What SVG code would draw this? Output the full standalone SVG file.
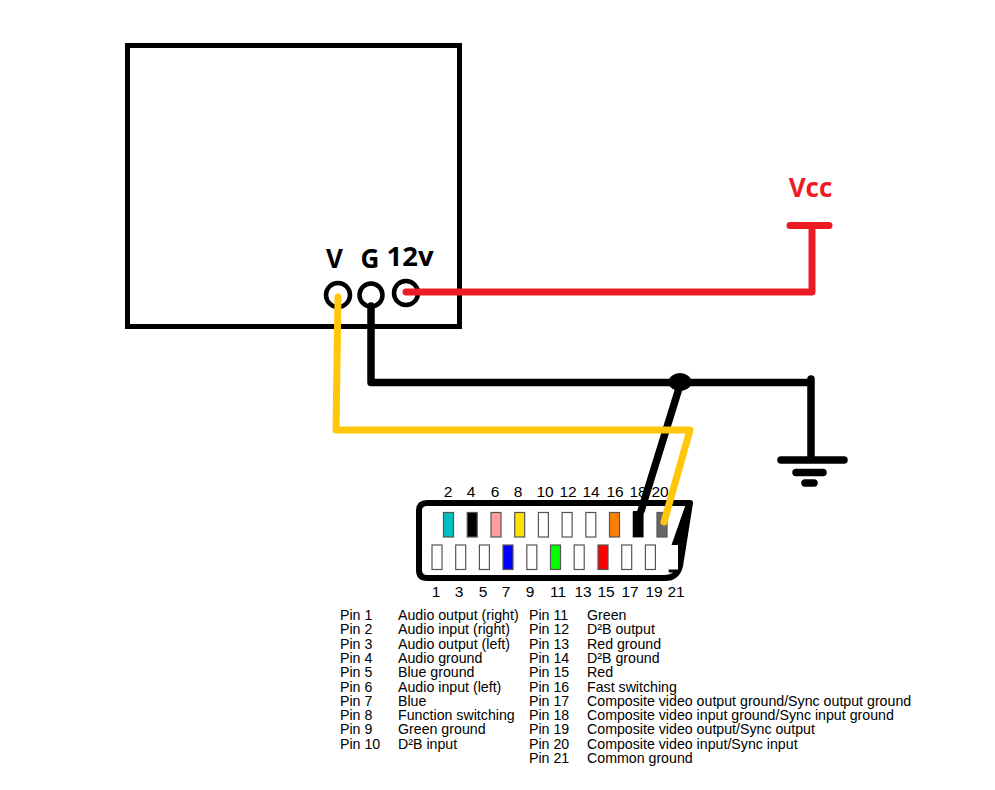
<svg xmlns="http://www.w3.org/2000/svg" width="995" height="790" viewBox="0 0 995 790">
<style>
.w{fill:none;stroke-width:7;stroke-linecap:round;stroke-linejoin:round}
.k{stroke:#000;stroke-width:7.500}.r{stroke:#ed1c24}.y{stroke:#ffc60b}
.c{fill:#fff;stroke:#000;stroke-width:4.500}
.b{font-family:"Open Sans","Noto Sans",sans-serif;font-weight:700;font-size:26px}
.n{font-family:"Liberation Sans",Arial,sans-serif;font-size:15.500px;fill:#000;text-anchor:middle}
.t{font-family:"Liberation Sans",Arial,sans-serif;font-size:14.200px;fill:#000}
.p{stroke:#555;stroke-width:1.200;fill:#fff}
</style>
<rect width="995" height="790" fill="#fff"/>
<g id="box"><rect x="127.500" y="45.500" width="332" height="281" fill="#fff" stroke="#000" stroke-width="5"/></g>
<g id="terminal-v"><circle class="c" cx="338" cy="295" r="12"/><text class="b" x="334.500" y="268" text-anchor="middle">V</text></g>
<g id="terminal-g"><circle class="c" cx="371" cy="295" r="11.500"/><text class="b" x="370" y="268" text-anchor="middle">G</text></g>
<g id="terminal-12v"><circle class="c" cx="406" cy="293" r="12"/><text class="b" x="410" y="266" text-anchor="middle" style="font-size:27.500px">12v</text></g>
<g id="scart">
<path d="M427,503H690L680,566Q677,578 665,578H427Q419,578 419,570V511Q419,503 427,503Z" fill="#fff" stroke="#000" stroke-width="6" stroke-linejoin="round"/>
<path d="M691,504L680,572L669,572L672,545L686,505Z" fill="#000" stroke="#000" stroke-width="1" stroke-linejoin="round"/>
<g id="pins-top">
<rect class="p" x="443.500" y="512.500" width="10" height="24.500" style="fill:#00bfbf"/>
<rect class="p" x="467.200" y="512.500" width="10" height="24.500" style="fill:#000"/>
<rect class="p" x="491" y="512.500" width="10" height="24.500" style="fill:#ff9f9f"/>
<rect class="p" x="514.700" y="512.500" width="10" height="24.500" style="fill:#ffe000"/>
<rect class="p" x="538.400" y="512.500" width="10" height="24.500"/>
<rect class="p" x="562.100" y="512.500" width="10" height="24.500"/>
<rect class="p" x="585.800" y="512.500" width="10" height="24.500"/>
<rect class="p" x="609.500" y="512.500" width="10" height="24.500" style="fill:#ff7f00"/>
<rect class="p" x="633.200" y="512.500" width="10" height="24.500" style="fill:#000"/>
<rect class="p" x="657" y="512.500" width="10" height="24.500" style="fill:#666"/>
</g>
<g id="pins-bottom">
<rect class="p" x="432" y="545" width="10" height="24.500"/>
<rect class="p" x="455.700" y="545" width="10" height="24.500"/>
<rect class="p" x="479.400" y="545" width="10" height="24.500"/>
<rect class="p" x="503" y="545" width="10" height="24.500" style="fill:#0000ff"/>
<rect class="p" x="526.800" y="545" width="10" height="24.500"/>
<rect class="p" x="550.500" y="545" width="10" height="24.500" style="fill:#00ff00"/>
<rect class="p" x="574.200" y="545" width="10" height="24.500"/>
<rect class="p" x="598" y="545" width="10" height="24.500" style="fill:#ff0000"/>
<rect class="p" x="621.700" y="545" width="10" height="24.500"/>
<rect class="p" x="645.400" y="545" width="10" height="24.500"/>
<rect x="669" y="545" width="9" height="24.500" fill="#fff"/>
</g>
<g id="pin-numbers">
<text class="n" x="448" y="497">2</text><text class="n" x="471" y="497">4</text><text class="n" x="495" y="497">6</text><text class="n" x="518" y="497">8</text><text class="n" x="545" y="497">10</text><text class="n" x="568" y="497">12</text><text class="n" x="591" y="497">14</text><text class="n" x="615" y="497">16</text><text class="n" x="638" y="497">18</text><text class="n" x="660" y="497">20</text>
<text class="n" x="436" y="597">1</text><text class="n" x="459" y="597">3</text><text class="n" x="483" y="597">5</text><text class="n" x="506" y="597">7</text><text class="n" x="530" y="597">9</text><text class="n" x="558" y="597">11</text><text class="n" x="583" y="597">13</text><text class="n" x="606" y="597">15</text><text class="n" x="630" y="597">17</text><text class="n" x="654" y="597">19</text><text class="n" x="676" y="597">21</text>
</g>
</g>
<g id="connectors">
<path class="w r" d="M406,292H812V226M790,225.500H829"/>
<path class="w k" d="M371,306V382.500H811V379M811,382V458M781,460H844M796,472.500H823M805,483H814"/>
<ellipse cx="680" cy="382" rx="11.500" ry="9" fill="#000"/>
<path class="w k" d="M680,385L641,511"/>
<rect x="633" y="511" width="10" height="26" fill="#000"/>
<path class="w y" d="M338,297L336,430H690L664,522"/>
</g>
<g id="vcc"><text class="b" x="810.500" y="197" text-anchor="middle" style="fill:#ed1c24">Vcc</text></g>
<g id="pin-list">
<text class="t" x="340" y="620">Pin 1</text><text class="t" x="398" y="620">Audio output (right)</text>
<text class="t" x="340" y="634.300">Pin 2</text><text class="t" x="398" y="634.300">Audio input (right)</text>
<text class="t" x="340" y="648.600">Pin 3</text><text class="t" x="398" y="648.600">Audio output (left)</text>
<text class="t" x="340" y="662.900">Pin 4</text><text class="t" x="398" y="662.900">Audio ground</text>
<text class="t" x="340" y="677.200">Pin 5</text><text class="t" x="398" y="677.200">Blue ground</text>
<text class="t" x="340" y="691.500">Pin 6</text><text class="t" x="398" y="691.500">Audio input (left)</text>
<text class="t" x="340" y="705.800">Pin 7</text><text class="t" x="398" y="705.800">Blue</text>
<text class="t" x="340" y="720.100">Pin 8</text><text class="t" x="398" y="720.100">Function switching</text>
<text class="t" x="340" y="734.400">Pin 9</text><text class="t" x="398" y="734.400">Green ground</text>
<text class="t" x="340" y="748.700">Pin 10</text><text class="t" x="398" y="748.700">D²B input</text>
<text class="t" x="529" y="620">Pin 11</text><text class="t" x="587" y="620">Green</text>
<text class="t" x="529" y="634.300">Pin 12</text><text class="t" x="587" y="634.300">D²B output</text>
<text class="t" x="529" y="648.600">Pin 13</text><text class="t" x="587" y="648.600">Red ground</text>
<text class="t" x="529" y="662.900">Pin 14</text><text class="t" x="587" y="662.900">D²B ground</text>
<text class="t" x="529" y="677.200">Pin 15</text><text class="t" x="587" y="677.200">Red</text>
<text class="t" x="529" y="691.500">Pin 16</text><text class="t" x="587" y="691.500">Fast switching</text>
<text class="t" x="529" y="705.800">Pin 17</text><text class="t" x="587" y="705.800">Composite video output ground/Sync output ground</text>
<text class="t" x="529" y="720.100">Pin 18</text><text class="t" x="587" y="720.100">Composite video input ground/Sync input ground</text>
<text class="t" x="529" y="734.400">Pin 19</text><text class="t" x="587" y="734.400">Composite video output/Sync output</text>
<text class="t" x="529" y="748.700">Pin 20</text><text class="t" x="587" y="748.700">Composite video input/Sync input</text>
<text class="t" x="529" y="763">Pin 21</text><text class="t" x="587" y="763">Common ground</text>
</g>
</svg>
